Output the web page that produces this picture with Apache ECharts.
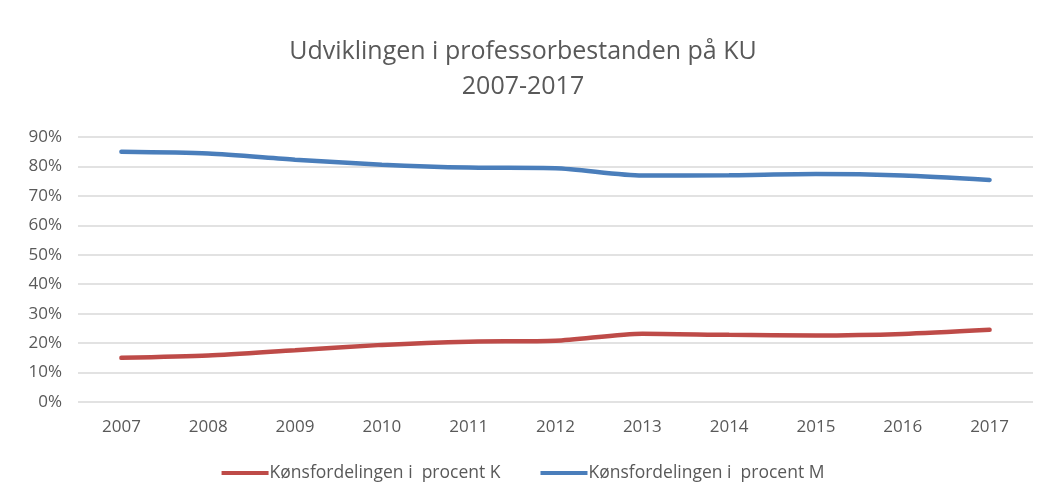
<!DOCTYPE html>
<html>
    <head>
        <meta charset="UTF-8">
        <title></title>
        <script type="text/javascript" src="https://cdn.jsdelivr.net/npm/echarts@6/dist/echarts.min.js"></script>
    </head>
    <body style="margin:0;background:#fff;">
        <div id="main" style="width: 1046px;height:503px;"></div>
    </body>
</html>
<script type="text/javascript">
        // data
        var years = ['2007', '2008', '2009', '2010', '2011', '2012', '2013', '2014', '2015', '2016', '2017'];
        var procentK = [15.0, 15.8, 17.6, 19.4, 20.5, 20.8, 23.2, 22.8, 22.6, 23.1, 24.5];
        var procentM = [85.0, 84.4, 82.3, 80.6, 79.6, 79.4, 76.9, 77.0, 77.4, 76.9, 75.4];
        var yTicks = [0, 10, 20, 30, 40, 50, 60, 70, 80, 90];

        var grey = '#595959';
        var fontFam = '"Open Sans", sans-serif';

        var myChart = echarts.init(document.getElementById('main'));
        var option = {
                animation: false,
                backgroundColor: '#ffffff',
                title: {
                        text: 'Udviklingen i professorbestanden på KU\n2007-2017',
                        left: 'center',
                        top: 29,
                        textStyle: {
                                fontFamily: fontFam,
                                fontSize: 25,
                                fontWeight: 'normal',
                                color: grey,
                                lineHeight: 35
                        }
                },
                legend: {
                        bottom: 16,
                        left: 'center',
                        itemWidth: 47,
                        itemHeight: 4,
                        itemGap: 40,
                        icon: 'rect',
                        textStyle: {
                                fontFamily: fontFam,
                                fontSize: 17.5,
                                color: grey,
                                padding: [0, 0, 0, -4]
                        },
                        data: ['Kønsfordelingen i  procent K', 'Kønsfordelingen i  procent M']
                },
                grid: {
                        left: 78,
                        right: 13,
                        top: 137,
                        bottom: 101
                },
                xAxis: {
                        type: 'category',
                        data: years,
                        boundaryGap: true,
                        axisLine: { show: false },
                        axisTick: { show: false },
                        axisLabel: {
                                fontFamily: fontFam,
                                fontSize: 17,
                                color: grey,
                                margin: 17
                        }
                },
                yAxis: {
                        type: 'value',
                        min: yTicks[0],
                        max: yTicks[yTicks.length - 1],
                        interval: 10,
                        axisLine: { show: false },
                        axisTick: { show: false },
                        axisLabel: {
                                fontFamily: fontFam,
                                fontSize: 17,
                                color: grey,
                                margin: 16,
                                formatter: '{value}%'
                        },
                        splitLine: {
                                lineStyle: { color: '#d9d9d9', width: 1.5 }
                        }
                },
                series: [{
                        name: 'Kønsfordelingen i  procent K',
                        type: 'line',
                        data: procentK,
                        smooth: 0.25,
                        showSymbol: false,
                        color: '#be4b48',
                        lineStyle: { width: 4.5, cap: 'round' }
                }, {
                        name: 'Kønsfordelingen i  procent M',
                        type: 'line',
                        data: procentM,
                        smooth: 0.25,
                        showSymbol: false,
                        color: '#4a7ebb',
                        lineStyle: { width: 4.5, cap: 'round' }
                }]
        };
        myChart.setOption(option);
</script>
